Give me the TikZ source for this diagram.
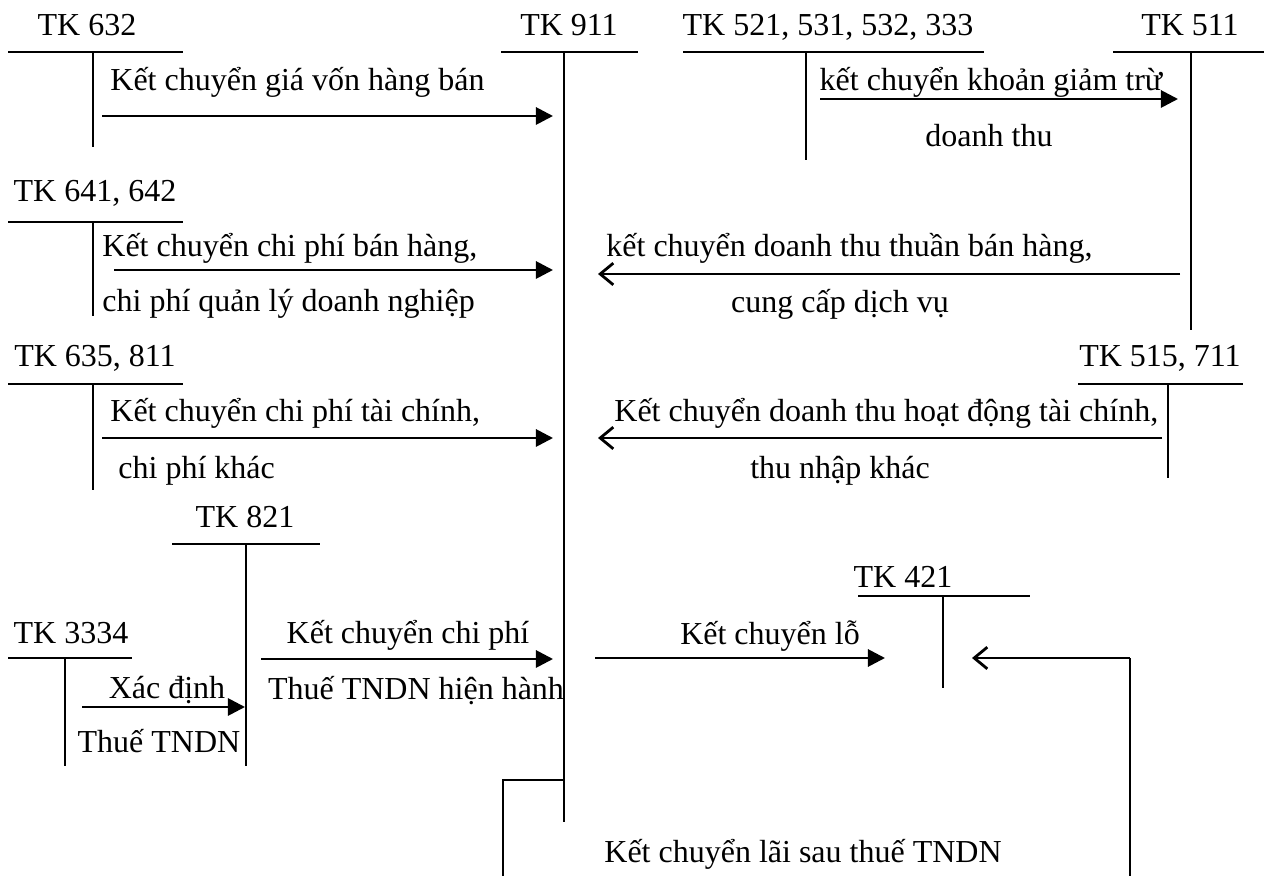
\documentclass[tikz,border=0pt]{standalone}
\usepackage{fontspec}
\setmainfont{Liberation Serif}
\usetikzlibrary{arrows.meta}

\begin{document}
\begin{tikzpicture}[
  x=0.5pt, y=-0.5pt,
  acc/.style={line width=0.75pt},
  lbl/.style={font=\fontsize{16}{19}\selectfont, inner sep=0pt, anchor=base},
  lblw/.style={lbl, anchor=base west},
  arr/.style={-{Triangle[length=3mm, width=3mm]}, line width=1.4pt},
  back/.style={-{Straight Barb[length=2.3mm, width=3.8mm]}, line width=1.4pt},
]
  \useasboundingbox (0,0) rectangle (1264,876);

  % T-accounts
  \node[lbl] (n632) at (87,36) {TK 632};
  \draw[acc] (8,52) -- (183,52) (93,52) -- (93,147);
  \node[lbl] (n911) at (569,36) {TK 911};
  \draw[acc] (501,52) -- (638,52) (564,52) -- (564,822);
  \node[lbl] (n521) at (828,36) {TK 521, 531, 532, 333};
  \draw[acc] (683,52) -- (984,52) (806,52) -- (806,160);
  \node[lbl] (n511) at (1190,36) {TK 511};
  \draw[acc] (1113,52) -- (1264,52) (1191,52) -- (1191,330);
  \node[lbl] (n641) at (95,202) {TK 641, 642};
  \draw[acc] (8,222) -- (183,222) (93,222) -- (93,316);
  \node[lbl] (n635) at (95,367) {TK 635, 811};
  \draw[acc] (8,384) -- (183,384) (93,384) -- (93,490);
  \node[lbl] (n515) at (1160,367) {TK 515, 711};
  \draw[acc] (1078,384) -- (1243,384) (1168,384) -- (1168,478);
  \node[lbl] (n821) at (245,528) {TK 821};
  \draw[acc] (172,544) -- (320,544) (246,544) -- (246,766);
  \node[lbl] (n3334) at (71,644) {TK 3334};
  \draw[acc] (8,658) -- (132,658) (65,658) -- (65,766);
  \node[lbl] (n421) at (903,588) {TK 421};
  \draw[acc] (858,596) -- (1030,596) (943,596) -- (943,688);

  % arrow ends
  \coordinate (a1s) at (102,116);  \coordinate (a1e) at (553,116);
  \coordinate (a2s) at (820,99);   \coordinate (a2e) at (1178,99);
  \coordinate (a3s) at (114,270);  \coordinate (a3e) at (553,270);
  \coordinate (a4s) at (1180,274); \coordinate (a4e) at (598,274);
  \coordinate (a5s) at (102,438);  \coordinate (a5e) at (553,438);
  \coordinate (a6s) at (1162,438); \coordinate (a6e) at (598,438);
  \coordinate (a7s) at (82,707);   \coordinate (a7e) at (245,707);
  \coordinate (a8s) at (261,659);  \coordinate (a8e) at (553,659);
  \coordinate (a9s) at (595,658);  \coordinate (a9e) at (885,658);
  \coordinate (lai) at (564,780);  \coordinate (laiL) at (503,780);
  \coordinate (laiB) at (503,876); \coordinate (laiR) at (1130,876);
  \coordinate (laiC) at (1130,658); \coordinate (laiE) at (972,658);

  \draw[arr] (a1s) -- (a1e);
  \draw[arr] (a2s) -- (a2e);
  \draw[arr] (a3s) -- (a3e);
  \draw[back] (a4s) -- (a4e);
  \draw[arr] (a5s) -- (a5e);
  \draw[back] (a6s) -- (a6e);
  \draw[arr] (a7s) -- (a7e);
  \draw[arr] (a8s) -- (a8e);
  \draw[arr] (a9s) -- (a9e);
  \draw[acc] (lai) -- (laiL) -- (laiB);
  \draw[acc] (laiR) -- (laiC);
  \draw[back] (laiC) -- (laiE);

  % arrow texts
  \node[lblw] (t1) at (110,91) {Kết chuyển giá vốn hàng bán};
  \node[lbl] (t2a) at (991,91) {kết chuyển khoản giảm trừ};
  \node[lbl] (t2b) at (989,147) {doanh thu};
  \node[lblw] (t3a) at (102,257) {Kết chuyển chi phí bán hàng,};
  \node[lblw] (t3b) at (102,312) {chi phí quản lý doanh nghiệp};
  \node[lblw] (t4a) at (606,257) {kết chuyển doanh thu thuần bán hàng,};
  \node[lbl] (t4b) at (840,313) {cung cấp dịch vụ};
  \node[lblw] (t5a) at (110,422) {Kết chuyển chi phí tài chính,};
  \node[lblw] (t5b) at (118,479) {chi phí khác};
  \node[lblw] (t6a) at (614,422) {Kết chuyển doanh thu hoạt động tài chính,};
  \node[lbl] (t6b) at (840,479) {thu nhập khác};
  \node[lbl] (t7a) at (167,698) {Xác định};
  \node[lbl] (t7b) at (159,753) {Thuế TNDN};
  \node[lbl] (t8a) at (408,644) {Kết chuyển chi phí};
  \node[lbl] (t8b) at (416,699) {Thuế TNDN hiện hành};
  \node[lbl] (t9) at (770,645) {Kết chuyển lỗ};
  \node[lbl] (t10) at (803,862) {Kết chuyển lãi sau thuế TNDN};
\end{tikzpicture}
\end{document}
